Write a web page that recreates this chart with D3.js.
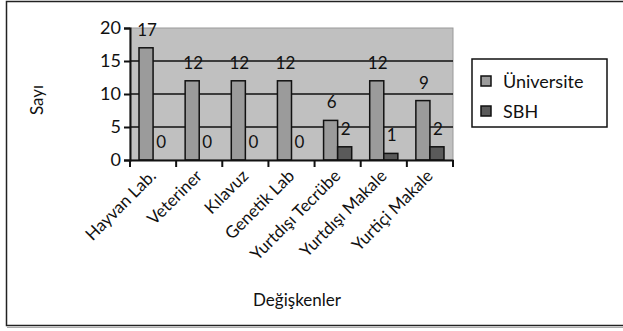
<!DOCTYPE html>
<html>
<head>
<meta charset="utf-8">
<script src="https://cdn.jsdelivr.net/npm/d3@7"></script>
<style>
  body { margin: 0; background: #fff; }
  text { font-family: Lato, "Open Sans", sans-serif; fill: #111; }
</style>
</head>
<body>
<svg id="chart" width="623" height="331"></svg>
<script>
// data
const categories = ["Hayvan Lab.", "Veteriner", "Kılavuz", "Genetik Lab", "Yurtdışı Tecrübe", "Yurtdışı Makale", "Yurtiçi Makale"];
const seriesNames = ["Üniversite", "SBH"];
const universite = [17, 12, 12, 12, 6, 12, 9];
const sbh = [0, 0, 0, 0, 2, 1, 2];
const yTicks = [0, 5, 10, 15, 20];
const colors = ["#9b9b9b", "#5a5a5a"];

const svg = d3.select("#chart");
const plot = { left: 130, right: 453, top: 28, bottom: 160 };

// outer frame (right edge falls outside the picture)
svg.append("path")
    .attr("d", "M640,1.5 H6.5 V325.5 H640")
    .attr("fill", "none").attr("stroke", "#222").attr("stroke-width", 1.5);
svg.append("line")
    .attr("x1", 7).attr("x2", 623).attr("y1", 327.5).attr("y2", 327.5)
    .attr("stroke", "#aaa").attr("stroke-width", 1);

const x0 = d3.scaleBand().domain(categories).range([plot.left, plot.right]).padding(0);
const x1 = d3.scaleBand().domain(seriesNames).range([0, x0.bandwidth()]).paddingOuter(0.64).paddingInner(0);
const y = d3.scaleLinear().domain([0, 20]).range([plot.bottom, plot.top]);

// plot background
svg.append("rect")
    .attr("x", plot.left).attr("y", plot.top)
    .attr("width", plot.right - plot.left).attr("height", plot.bottom - plot.top)
    .attr("fill", "#c0c0c0").attr("stroke", "#9a9a9a").attr("stroke-width", 1);

// gridlines
svg.append("g").selectAll("line")
    .data(yTicks.filter(d => d > 0 && d < 20))
    .enter().append("line")
    .attr("x1", plot.left).attr("x2", plot.right)
    .attr("y1", d => y(d)).attr("y2", d => y(d))
    .attr("stroke", "#111").attr("stroke-width", 1.5);

// bars
const rows = categories.map((c, i) => ({ cat: c, vals: [universite[i], sbh[i]] }));
const groups = svg.append("g").selectAll("g")
    .data(rows).enter().append("g")
    .attr("transform", d => `translate(${x0(d.cat)},0)`);

groups.selectAll("rect")
    .data(d => d.vals.map((v, j) => ({ s: seriesNames[j], v: v, j: j })))
    .enter().append("rect")
    .attr("x", d => x1(d.s))
    .attr("y", d => y(d.v))
    .attr("width", x1.bandwidth())
    .attr("height", d => y(0) - y(d.v))
    .attr("fill", d => colors[d.j])
    .attr("stroke", "#111").attr("stroke-width", 1.5);

groups.selectAll("text")
    .data(d => d.vals.map((v, j) => ({ s: seriesNames[j], v: v })))
    .enter().append("text")
    .attr("x", d => x1(d.s) + x1.bandwidth() / 2 + 1)
    .attr("y", d => y(d.v) - 12)
    .attr("text-anchor", "middle")
    .attr("font-size", 17)
    .text(d => d.v);

// y axis
const yAxis = svg.append("g")
    .attr("transform", `translate(${plot.left},0)`)
    .call(d3.axisLeft(y).tickValues(yTicks).tickSize(6).tickPadding(3));
yAxis.selectAll("text").attr("font-size", 18).style("font-family", "Lato, sans-serif").attr("fill", "#111");
yAxis.selectAll("line, path").attr("stroke", "#111").attr("stroke-width", 2);

// x axis
const xAxis = svg.append("g")
    .attr("transform", `translate(0,${plot.bottom})`)
    .call(d3.axisBottom(x0).tickSizeOuter(0).tickSize(0).tickFormat(""));
xAxis.select("path").attr("stroke", "#111").attr("stroke-width", 2);
xAxis.selectAll("line.cat")
    .data(categories.concat(["end"]))
    .enter().append("line")
    .attr("x1", (d, i) => plot.left + i * x0.step())
    .attr("x2", (d, i) => plot.left + i * x0.step())
    .attr("y1", 0).attr("y2", 7)
    .attr("stroke", "#111").attr("stroke-width", 2);

svg.append("g").selectAll("text")
    .data(categories).enter().append("text")
    .attr("transform", d => `translate(${x0(d) + x0.bandwidth() / 2 + 4},${plot.bottom + 17}) rotate(-45)`)
    .attr("text-anchor", "end")
    .attr("font-size", 17)
    .text(d => d);

// axis titles
svg.append("text")
    .attr("transform", "translate(43,100) rotate(-90)")
    .attr("text-anchor", "middle")
    .attr("font-size", 17)
    .text("Sayı");
svg.append("text")
    .attr("x", 297).attr("y", 306)
    .attr("text-anchor", "middle")
    .attr("font-size", 17)
    .text("Değişkenler");

// legend
const legend = svg.append("g");
legend.append("rect")
    .attr("x", 472).attr("y", 59).attr("width", 135).attr("height", 68)
    .attr("fill", "#fff").attr("stroke", "#111").attr("stroke-width", 1.5);
const items = legend.selectAll("g.item")
    .data(seriesNames).enter().append("g")
    .attr("transform", (d, i) => `translate(481,${76 + i * 30})`);
items.append("rect")
    .attr("width", 10).attr("height", 10)
    .attr("fill", (d, i) => colors[i])
    .attr("stroke", "#111").attr("stroke-width", 1.5);
items.append("text")
    .attr("x", 22).attr("y", 12)
    .attr("font-size", 18)
    .text(d => d);
</script>
</body>
</html>
